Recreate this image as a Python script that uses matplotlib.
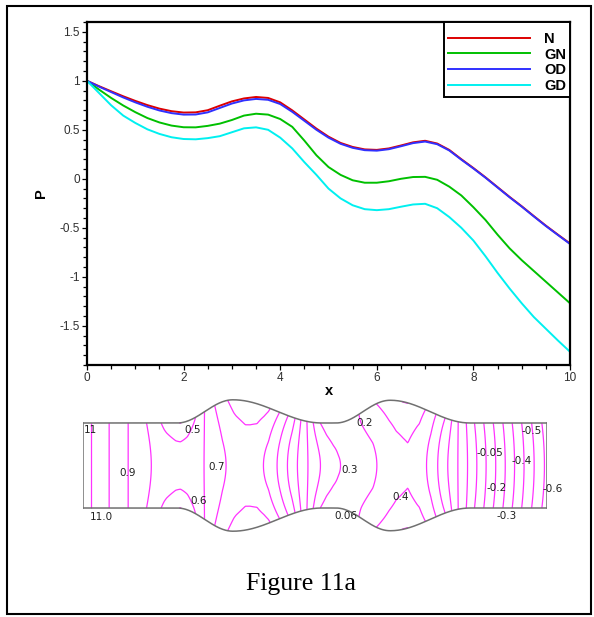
import numpy as np
import matplotlib.pyplot as plt
from matplotlib.patches import Rectangle
from matplotlib.ticker import MultipleLocator

# pressure P along the channel (x step 0.25)
x = np.arange(0, 10.01, 0.25)
p_N = [1.000, 0.945, 0.893, 0.842, 0.795, 0.752, 0.716, 0.690, 0.676, 0.678,
       0.700, 0.746, 0.790, 0.820, 0.835, 0.825, 0.780, 0.698, 0.605, 0.512,
       0.430, 0.366, 0.325, 0.300, 0.295, 0.310, 0.340, 0.372, 0.388, 0.360,
       0.295, 0.200, 0.110, 0.015, -0.085, -0.185, -0.280, -0.380, -0.478, -0.570,
       -0.660]
p_GN = [1.000, 0.910, 0.825, 0.748, 0.680, 0.620, 0.575, 0.543, 0.526, 0.525,
        0.540, 0.563, 0.600, 0.645, 0.664, 0.655, 0.610, 0.530, 0.390, 0.240,
        0.120, 0.040, -0.015, -0.040, -0.040, -0.025, 0.000, 0.018, 0.020, -0.010,
        -0.080, -0.170, -0.290, -0.420, -0.570, -0.710, -0.830, -0.940, -1.050, -1.160,
        -1.270]
p_OD = [1.000, 0.940, 0.885, 0.830, 0.780, 0.735, 0.697, 0.670, 0.655, 0.656,
        0.678, 0.723, 0.768, 0.800, 0.815, 0.806, 0.763, 0.683, 0.592, 0.500,
        0.420, 0.357, 0.316, 0.292, 0.287, 0.302, 0.332, 0.364, 0.380, 0.353,
        0.289, 0.195, 0.105, 0.011, -0.089, -0.189, -0.284, -0.384, -0.482, -0.574,
        -0.665]
p_GD = [1.000, 0.875, 0.750, 0.645, 0.570, 0.505, 0.458, 0.424, 0.406, 0.403,
        0.415, 0.435, 0.475, 0.515, 0.525, 0.500, 0.420, 0.310, 0.170, 0.040,
        -0.100, -0.200, -0.270, -0.310, -0.320, -0.310, -0.285, -0.262, -0.255, -0.300,
        -0.390, -0.500, -0.630, -0.790, -0.960, -1.120, -1.270, -1.410, -1.530, -1.650,
        -1.765]

names = ['N', 'GN', 'OD', 'GD']
colors = ['#dd0000', '#00c000', '#3030ff', '#00f0f0']

# channel geometry (two wall bulges)
half_h = 0.916
bump_start = [2.03, 5.45]
bump_peak = [3.23, 6.62]
bump_end = [5.15, 8.34]
bump_height = [0.50, 0.49]

# estimated wall-minus-centre pressure difference along the channel
amp_x = [0, 1.0, 1.5, 1.8, 2.1, 2.4, 2.7, 3.0, 3.3, 3.6, 3.9, 4.2, 4.5, 4.8,
         5.1, 5.4, 5.7, 6.0, 6.3, 6.6, 6.9, 7.2, 7.5, 7.8, 8.1, 8.4, 10]
amp_v = [0, 0, -0.02, -0.08, -0.12, -0.06, 0.02, 0.06, 0.10, 0.12, 0.12, 0.10, 0.08, 0.0,
         -0.08, -0.10, -0.05, 0.04, 0.08, 0.10, 0.10, 0.08, 0.07, 0.06, 0.0, -0.02, -0.02]

labels = [('11', 0.15, 0.76), ('11.0', 0.39, -1.11),
          ('0.9', 0.97, -0.16), ('0.5', 2.37, 0.76), ('0.7', 2.89, -0.03),
          ('0.6', 2.50, -0.77), ('0.2', 6.06, 0.92), ('0.3', 5.75, -0.10),
          ('0.4', 6.85, -0.68), ('0.06', 5.67, -1.09), ('-0.05', 8.77, 0.27),
          ('-0.4', 9.45, 0.10), ('-0.5', 9.66, 0.74), ('-0.2', 8.92, -0.49),
          ('-0.6', 10.12, -0.51), ('-0.3', 9.14, -1.09)]


def wall(xx):
    h = np.full_like(xx, half_h)
    for s, c, e, a in zip(bump_start, bump_peak, bump_end, bump_height):
        up = (xx >= s) & (xx < c)
        h[up] += a * 0.5 * (1 - np.cos(np.pi * (xx[up] - s) / (c - s)))
        dn = (xx >= c) & (xx <= e)
        h[dn] += a * 0.5 * (1 + np.cos(np.pi * (xx[dn] - c) / (e - c)))
    return h


plt.rcParams['contour.negative_linestyle'] = 'solid'
fig = plt.figure(figsize=(5.94, 6.17), dpi=100)

# ---- top: P along x
ax = fig.add_axes([87/594, 1-365/617, 483/594, 343/617])
for p, n, c in zip([p_N, p_GN, p_OD, p_GD], names, colors):
    ax.plot(x, p, color=c, lw=1.4, label=n)
ax.set_xlim(0, 10)
ax.set_ylim(-1.9, 1.6)
ax.set_xticks([0, 2, 4, 6, 8, 10])
ax.set_xticklabels(['0', '2', '4', '6', '8', '10'])
ax.set_yticks([-1.5, -1, -0.5, 0, 0.5, 1, 1.5])
ax.set_yticklabels(['-1.5', '-1', '-0.5', '0', '0.5', '1', '1.5'])
ax.xaxis.set_minor_locator(MultipleLocator(0.5))
ax.yaxis.set_minor_locator(MultipleLocator(0.1))
ax.tick_params(which='major', direction='out', length=3.8, width=0.9, pad=1.5,
               labelsize=8.5, labelcolor='#303030')
ax.tick_params(which='minor', direction='out', length=2.6, width=0.9)
for sp in ax.spines.values():
    sp.set_linewidth(1.6)
for t in ax.get_xticklabels() + ax.get_yticklabels():
    t.set_family('Liberation Sans')
ax.set_xlabel('x', fontsize=10.5, fontweight='bold', family='Liberation Sans', labelpad=0)
ax.set_ylabel('P', fontsize=10.5, fontweight='bold', family='Liberation Sans', labelpad=8)
leg = ax.legend(loc='upper right', bbox_to_anchor=(1, 1), borderaxespad=0,
                fancybox=False, edgecolor='black', framealpha=1,
                prop={'family': 'Liberation Sans', 'weight': 'bold', 'size': 10.5},
                title=' ', title_fontsize=3,
                handlelength=5.6, handletextpad=0.95, labelspacing=0.12, borderpad=0.28)
leg.get_frame().set_linewidth(1.4)

# ---- bottom: pressure contours in the channel
ax2 = fig.add_axes([83/594, 1-535.1/617, 464/594, 139.2/617])
gx = np.linspace(0, 10, 600)
gs = np.linspace(-1, 1, 161)
H = wall(gx)
GX, GS = np.meshgrid(gx, gs)
GY = GS * H[None, :]
pc = np.interp(gx, x, p_N)
amp = np.interp(gx, amp_x, amp_v)
P = pc[None, :] + amp[None, :] * GS**2
levels = np.round(np.arange(-0.64, 1.0, 0.08), 3)
ax2.contour(GX, GY, P, levels=levels, colors='#ff33ff', linewidths=0.9,
            linestyles='solid')
ax2.plot(gx, H, color='#707070', lw=1.1)
ax2.plot(gx, -H, color='#707070', lw=1.1)
ax2.plot([0, 0], [-half_h, half_h], color='#707070', lw=1.1)
ax2.plot([10, 10], [-half_h, half_h], color='#707070', lw=1.1)
for txt, lx, ly in labels:
    ax2.text(lx, ly, txt, fontsize=7.5, color='#202020', ha='center', va='center',
             family='DejaVu Sans', clip_on=False)
ax2.set_xlim(0, 10)
ax2.set_ylim(-1.5, 1.5)
ax2.axis('off')

fig.text(301/594, 1-584/617, 'Figure 11a', family='Liberation Serif', fontsize=18.5,
         ha='center', va='center')
fig.patches.append(Rectangle((7/594, 3/617), 584/594, 608/617, transform=fig.transFigure,
                             fill=False, edgecolor='black', lw=1.5))

fig.savefig('out.png', dpi=100)
